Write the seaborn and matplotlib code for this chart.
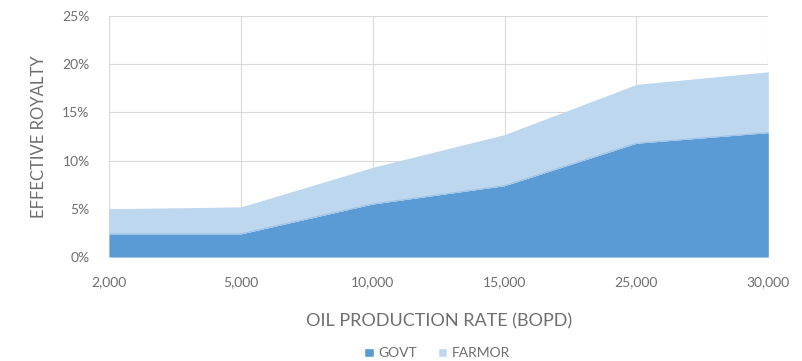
import numpy as np
import pandas as pd
import matplotlib
matplotlib.use("Agg")
import matplotlib.pyplot as plt
import seaborn as sns
from matplotlib.patches import Patch
from matplotlib.ticker import FuncFormatter

categories = ["2,000", "5,000", "10,000", "15,000", "25,000", "30,000"]
govt = [2.4, 2.4, 5.5, 7.4, 11.8, 12.9]
farmor = [2.6, 2.8, 3.8, 5.3, 6.1, 6.3]

sns.set_theme(style="white")
plt.rcParams['font.family'] = ['Lato', 'DejaVu Sans']

df = pd.DataFrame({"cat": categories, "GOVT": govt, "FARMOR": farmor})
df["TOTAL"] = df["GOVT"] + df["FARMOR"]
x = np.arange(len(categories))

fig = plt.figure(figsize=(8.02, 3.61), dpi=100)
ax = fig.add_axes([0.136, 0.288, 0.822, 0.668])

c_govt = "#5B9BD5"
c_farm = "#BDD7EE"
ax.fill_between(x, 0, df["GOVT"], color=c_govt, linewidth=0, zorder=2)
ax.fill_between(x, df["GOVT"], df["TOTAL"], color=c_farm, linewidth=0, zorder=2)
sns.lineplot(x=x, y=df["GOVT"].values, ax=ax, color="#9DC3E6", linewidth=0.8, zorder=3)

ax.set_xlim(0, len(categories) - 1)
ax.set_ylim(0, 25)
ax.set_yticks([0, 5, 10, 15, 20, 25])
ax.yaxis.set_major_formatter(FuncFormatter(lambda v, p: f"{int(v)}%"))
ax.set_xticks(x)
ax.set_xticklabels(categories)

ax.grid(True, color="#D9D9D9", linewidth=0.8, zorder=0)
ax.set_axisbelow(True)
for s in ax.spines.values():
    s.set_visible(False)

ax.tick_params(axis="both", length=0, labelsize=10, colors="#6E6E6E")
ax.tick_params(axis="x", pad=14)
ax.tick_params(axis="y", pad=14)

ax.set_xlabel("OIL PRODUCTION RATE (BOPD)", fontsize=13, color="#6E6E6E", labelpad=18)
ax.set_ylabel("EFFECTIVE ROYALTY", fontsize=12, color="#6E6E6E", labelpad=11)

handles = [Patch(facecolor=c_govt, label="GOVT"), Patch(facecolor=c_farm, label="FARMOR")]
fig.legend(handles=handles, loc="lower center", bbox_to_anchor=(0.545, -0.03), ncol=2,
           frameon=False, fontsize=10, handlelength=0.7, handleheight=0.7,
           handletextpad=0.3, columnspacing=1.5, labelcolor="#6E6E6E")

fig.savefig("out.png", dpi=100)
